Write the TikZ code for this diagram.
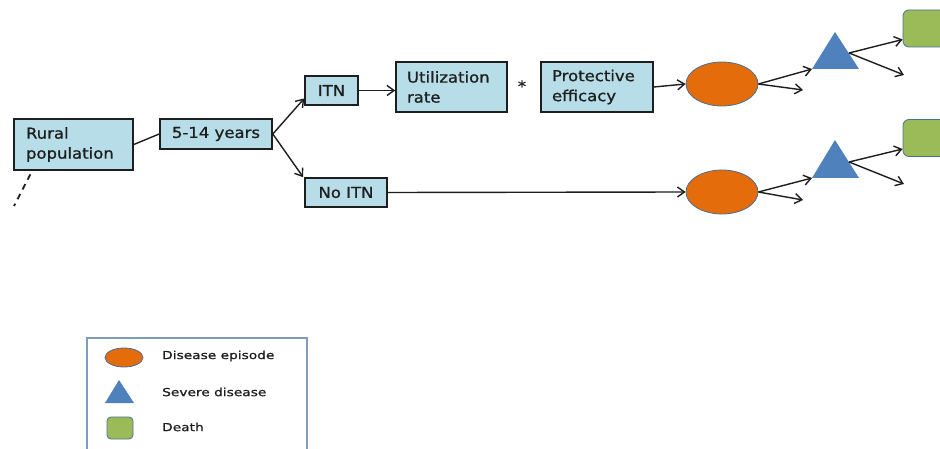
\documentclass[tikz,border=0pt]{standalone}
\usepackage{fontspec}
\setmainfont{DejaVu Sans}[FakeStretch=1.1,FakeBold=1]
\newfontfamily\legfont{DejaVu Sans}[FakeStretch=1.25,FakeBold=1]
\usetikzlibrary{arrows.meta,shapes.geometric}
\definecolor{boxblue}{HTML}{B7DEE8}
\definecolor{orng}{HTML}{E46C0A}
\definecolor{triblue}{HTML}{4F81BD}
\definecolor{grn}{HTML}{9BBB59}
\definecolor{edgeblue}{HTML}{4A6F96}
\definecolor{legborder}{HTML}{7F9DB9}
\definecolor{ink}{HTML}{1E1E1E}
\begin{document}
\begin{tikzpicture}[x=1pt,y=-1pt,
  box/.style={draw=ink, line width=1.6pt, fill=boxblue, text=ink, font=\fontsize{15}{20}\selectfont, inner sep=0pt},
  conn/.style={draw=ink, line width=1.4pt},
  arr/.style={conn, -{Straight Barb[length=7pt,width=10pt]}},
  oval/.style={ellipse, draw=edgeblue, line width=0.8pt, fill=orng, inner sep=0pt},
  deathbox/.style={draw=edgeblue, line width=0.8pt, fill=grn, inner sep=0pt},
  legtext/.style={anchor=west, text=ink, font=\legfont\fontsize{11}{13}\selectfont, inner sep=0pt}]
\clip (0,0) rectangle (940,449);
\fill[white] (0,0) rectangle (940,449);

% boxes
\node[box, minimum width=119pt, minimum height=51pt, text width=95pt, align=left] (rural) at (73.5,144.5) {Rural\\population};
\node[box, minimum width=112pt, minimum height=30pt] (age) at (216,134) {5-14 years};
\node[box, minimum width=53pt, minimum height=29pt] (itn) at (331.5,90.5) {ITN};
\node[box, minimum width=111pt, minimum height=50pt, text width=89pt, align=left] (util) at (451.5,87) {Utilization\\rate};
\node[box, minimum width=112pt, minimum height=50pt, text width=90pt, align=left] (prot) at (597,87) {Protective\\efficacy};
\node[box, minimum width=82pt, minimum height=29pt] (noitn) at (346,192.5) {No ITN};
\node[text=ink, font=\fontsize{15}{18}\selectfont, inner sep=0pt] (star) at (522,86) {*};

% outcome shapes
\node[oval, minimum width=72pt, minimum height=44pt] (e1) at (722,84) {};
\node[oval, minimum width=72pt, minimum height=44pt] (e2) at (722,192) {};
\coordinate (t1top) at (835,32); \coordinate (t1l) at (812,69); \coordinate (t1r) at (859,69);
\coordinate (t2top) at (835,140); \coordinate (t2l) at (812,178); \coordinate (t2r) at (859,178);
\fill[triblue] (t1top) -- (t1l) -- (t1r) -- cycle;
\fill[triblue] (t2top) -- (t2l) -- (t2r) -- cycle;
\coordinate (t1s) at (849,53); \coordinate (t2s) at (849,162);
\node[deathbox, rounded corners=6pt, minimum width=70pt, minimum height=37pt] (g1) at (938,28.5) {};
\node[deathbox, rounded corners=6pt, minimum width=70pt, minimum height=37pt] (g2) at (938,138) {};

% free ends
\coordinate (dashend) at (14,206);
\coordinate (f1) at (803,90);
\coordinate (f2) at (904,75);
\coordinate (f3) at (803,200);
\coordinate (f4) at (904,184);

% connectors
\draw[conn] (rural.east) -- (age.west);
\draw[conn, line width=1.8pt, dash pattern=on 6pt off 5pt, dash phase=-4pt] ([xshift=19pt]rural.south west) -- (dashend);
\draw[arr] (age.east) -- ([yshift=-8pt]itn.west);
\draw[arr] (age.east) -- ([xshift=-1pt]noitn.north west);
\draw[arr] (itn.east) -- (itn.east -| util.west);
\draw[arr] (prot.east) -- (e1.west);
\draw[arr] (noitn.east) -- (e2.west);
\draw[arr] (e1.east) -- (t1l);
\draw[arr] (e1.east) -- (f1);
\draw[arr] (e2.east) -- (t2l);
\draw[arr] (e2.east) -- (f3);
\draw[arr] (t1s) -- ([yshift=-11pt]g1.west);
\draw[arr] (t1s) -- (f2);
\draw[arr] (t2s) -- ([yshift=-11pt]g2.west);
\draw[arr] (t2s) -- (f4);

% legend
\draw[legborder, line width=1.2pt] (87,460) -- (87,338) -- (307,338) -- (307,460);
\node[oval, minimum width=38pt, minimum height=19pt] (le) at (124,357.5) {};
\coordinate (lt1) at (119,380); \coordinate (lt2) at (105,403); \coordinate (lt3) at (134,403);
\fill[triblue] (lt1) -- (lt2) -- (lt3) -- cycle;
\node[deathbox, rounded corners=4pt, minimum width=26pt, minimum height=22pt] (lg) at (120,428) {};
\node[legtext] (l1) at (162,356) {Disease episode};
\node[legtext] (l2) at (162,392) {Severe disease};
\node[legtext] (l3) at (162,427) {Death};
\end{tikzpicture}
\end{document}
